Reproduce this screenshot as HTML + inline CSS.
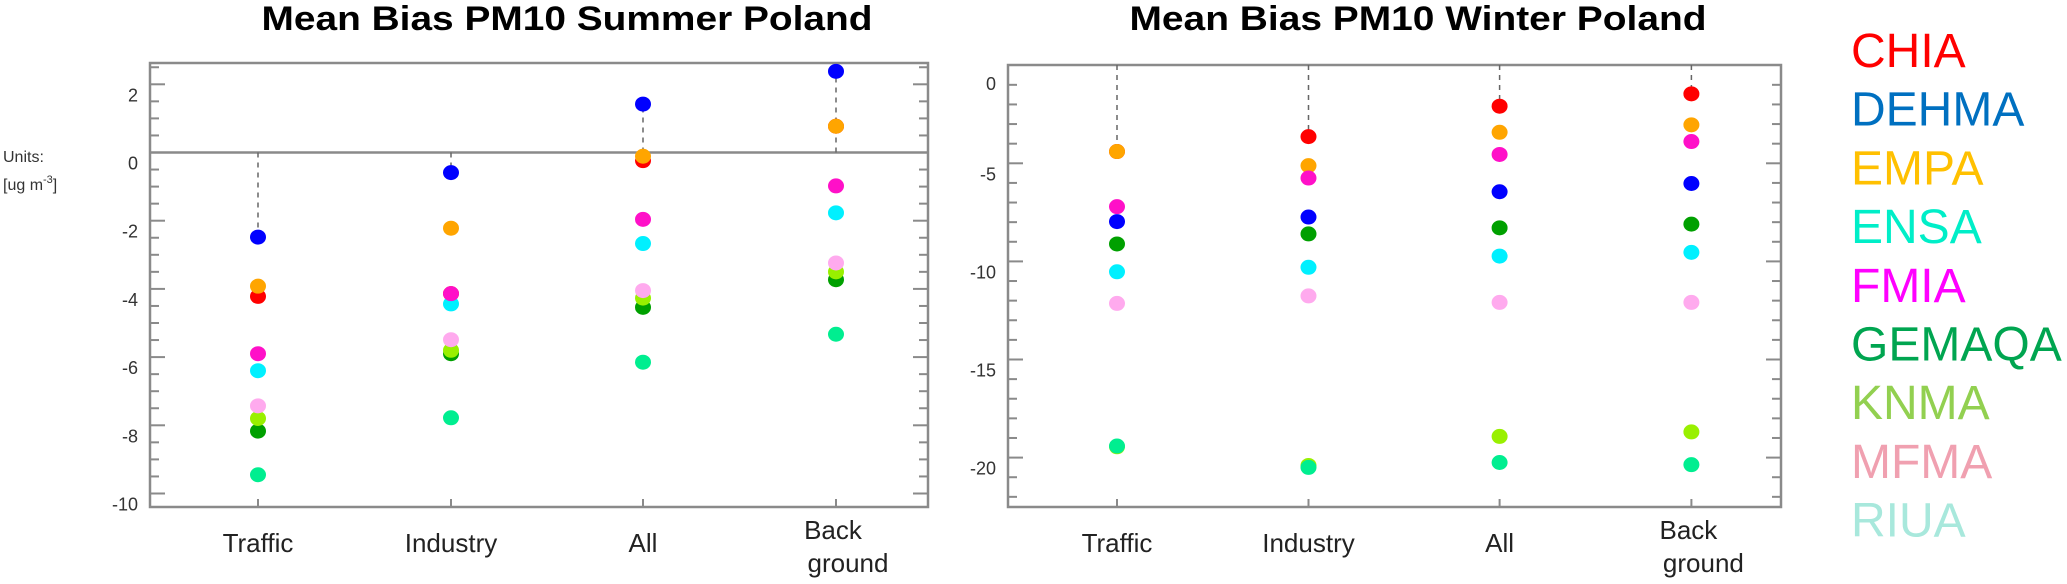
<!DOCTYPE html>
<html><head><meta charset="utf-8"><style>
body{margin:0;background:#fff;}
svg{display:block;font-family:"Liberation Sans",sans-serif;}
</style></head><body>
<svg id="c" width="2067" height="584" viewBox="0 0 2067 584">
<text x="567" y="30" font-size="34" font-weight="bold" text-anchor="middle" textLength="611" lengthAdjust="spacingAndGlyphs">Mean Bias PM10 Summer Poland</text>
<text x="1418" y="30" font-size="34" font-weight="bold" text-anchor="middle" textLength="577" lengthAdjust="spacingAndGlyphs">Mean Bias PM10 Winter Poland</text>
<text x="3" y="162" font-size="16" fill="#333">Units:</text>
<text x="3" y="190" font-size="16" fill="#333">[ug m<tspan font-size="11" dy="-7">-3</tspan><tspan dy="7">]</tspan></text>
<g id="legend"></g>
</svg>
<script>
const categories = ["Traffic", "Industry", "All", "Back\nground"];
const models = ["CHIA","DEHMA","EMPA","ENSA","FMIA","GEMAQA","KNMA","MFMA","RIUA"];
const legendColors = ["#ff0000","#0070c0","#ffc000","#00eec8","#ff00ff","#00a550","#92d050","#f0a0b0","#a8e8dc"];
const dotColors = ["#ff0000","#0000ff","#ffa500","#00f0ff","#ff10c8","#00a000","#99f000","#ffaaee","#00ee90"];
// order per series: Traffic, Industry, All, Background
const summerCHIA   = [-4.22, -4.14, -0.24, 0.77];
const summerDEHMA  = [-2.48, -0.59, 1.42, 2.38];
const summerEMPA   = [-3.92, -2.22, -0.11, 0.77];
const summerENSA   = [-6.4, -4.44, -2.67, -1.77];
const summerFMIA   = [-5.9, -4.14, -1.96, -0.98];
const summerGEMAQA = [-8.17, -5.9, -4.54, -3.73];
const summerKNMA   = [-7.8, -5.8, -4.27, -3.5];
const summerMFMA   = [-7.43, -5.49, -4.05, -3.24];
const summerRIUA   = [-9.45, -7.78, -6.15, -5.33];
const winterCHIA   = [-4.4, -3.64, -2.09, -1.46];
const winterDEHMA  = [-7.97, -7.74, -6.45, -6.03];
const winterEMPA   = [-4.4, -5.12, -3.42, -3.04];
const winterENSA   = [-10.53, -10.3, -9.73, -9.54];
const winterFMIA   = [-7.21, -5.75, -4.55, -3.89];
const winterGEMAQA = [-9.11, -8.6, -8.29, -8.1];
const winterKNMA   = [-19.45, -20.4, -18.92, -18.69];
const winterMFMA   = [-12.14, -11.76, -12.09, -12.09];
const winterRIUA   = [-19.41, -20.5, -20.25, -20.36];
const summerTicks = [2, 0, -2, -4, -6, -8, -10];
const winterTicks = [0, -5, -10, -15, -20];

const NS = "http://www.w3.org/2000/svg";
const svg = document.getElementById("c");
function mk(tag, attrs, parent){const e=document.createElementNS(NS,tag);for(const k in attrs)e.setAttribute(k,attrs[k]);(parent||svg).appendChild(e);return e;}

function panel(cfg){
  const g = mk("g",{});
  
  
  const y = v => cfg.zeroY - v*cfg.unit;
  const x = i => cfg.catX[i];
  const frame = mk("rect",{x:cfg.left,y:cfg.top,width:cfg.right-cfg.left,height:cfg.bottom-cfg.top,fill:"none",stroke:"#8a8a8a","stroke-width":2.5},g);
  
  
  // minor/major ticks
  const vTop = (cfg.zeroY-cfg.top)/cfg.unit, vBot = (cfg.zeroY-cfg.bottom)/cfg.unit;
  for(let v=Math.floor(vTop/cfg.minor)*cfg.minor; v>=vBot; v-=cfg.minor){
    const vv = Math.round(v*1000)/1000;
    const major = Math.abs(vv/cfg.major - Math.round(vv/cfg.major))<1e-6;
    const len = major?15:9, yy=y(vv);
    if(yy<cfg.top+3||yy>cfg.bottom-3) continue;
    const t1 = mk("line",{x1:cfg.left,x2:cfg.left+len,y1:yy,y2:yy,stroke:"#8a8a8a","stroke-width":2},g);
    
    
    const t2 = mk("line",{x1:cfg.right,x2:cfg.right-len,y1:yy,y2:yy,stroke:"#8a8a8a","stroke-width":2},g);
    
    
  }
  cfg.ticks.forEach(v=>{
    const off = (v===0 && cfg.zeroOff!==undefined)?cfg.zeroOff:11;
    const t = mk("text",{x:cfg.left-12,y:y(v)+off+6,"font-size":18,"text-anchor":"end",fill:"#333"},g);
    t.textContent = String(v);
    
    
  });
  if(cfg.zeroLine){
    const zl = mk("line",{x1:cfg.left,x2:cfg.right,y1:y(0),y2:y(0),stroke:"#8a8a8a","stroke-width":2.5},g);
    
    
  }
  categories.forEach((c,i)=>{
    const bt = mk("line",{x1:x(i),x2:x(i),y1:cfg.bottom,y2:cfg.bottom-8,stroke:"#8a8a8a","stroke-width":2},g);
    
    
    const vals = cfg.series.map(s=>s[i]);
    const mx = Math.max(...vals);
    const y0 = cfg.zeroLine ? y(0) : cfg.top;
    const dl = mk("line",{x1:x(i),x2:x(i),y1:y0,y2:y(mx),stroke:"#666","stroke-width":1.5,"stroke-dasharray":"5,5"},g);
    
    
    const parts = c.split("\n");
    if(parts.length===1){
      const t = mk("text",{x:x(i),y:552,"font-size":26,"text-anchor":"middle",fill:"#222"},g);
      t.textContent = c;
      
      
    } else {
      const t1 = mk("text",{x:x(i)-3,y:539,"font-size":26,"text-anchor":"middle",fill:"#222"},g);
      t1.textContent = parts[0];
      
      
      const t2 = mk("text",{x:x(i)+12,y:572,"font-size":26,"text-anchor":"middle",fill:"#222"},g);
      t2.textContent = parts[1];
      
      
    }
  });
  cfg.series.forEach((s,si)=>{
    s.forEach((v,i)=>{
      const d = mk("ellipse",{cx:x(i),cy:y(v),rx:8,ry:7.5,fill:dotColors[si]},g);
      
      
    });
  });
}

panel({name:"summer-panel",left:150,right:928,top:63,bottom:507,zeroY:152.5,unit:34.1,minor:0.5,major:2,zeroLine:true,
  catX:[258,451,643,836],ticks:summerTicks,
  series:[summerRIUA,summerMFMA,summerKNMA,summerGEMAQA,summerENSA,summerFMIA,summerDEHMA,summerCHIA,summerEMPA].length?[summerCHIA,summerDEHMA,summerEMPA,summerENSA,summerFMIA,summerGEMAQA,summerKNMA,summerMFMA,summerRIUA]:[]});
panel({name:"winter-panel",left:1008,right:1781,top:65,bottom:507,zeroY:65.2,unit:19.62,minor:1,major:5,zeroLine:false,zeroOff:19,
  catX:[1117,1308.5,1499.6,1691.4],ticks:winterTicks,
  series:[winterCHIA,winterDEHMA,winterEMPA,winterENSA,winterFMIA,winterGEMAQA,winterKNMA,winterMFMA,winterRIUA]});

const lg = document.getElementById("legend");
models.forEach((m,i)=>{
  const t = mk("text",{x:1851,y:67+i*58.7,"font-size":48,fill:legendColors[i]},lg);
  t.textContent = m;
  
  
});
</script>
</body></html>
